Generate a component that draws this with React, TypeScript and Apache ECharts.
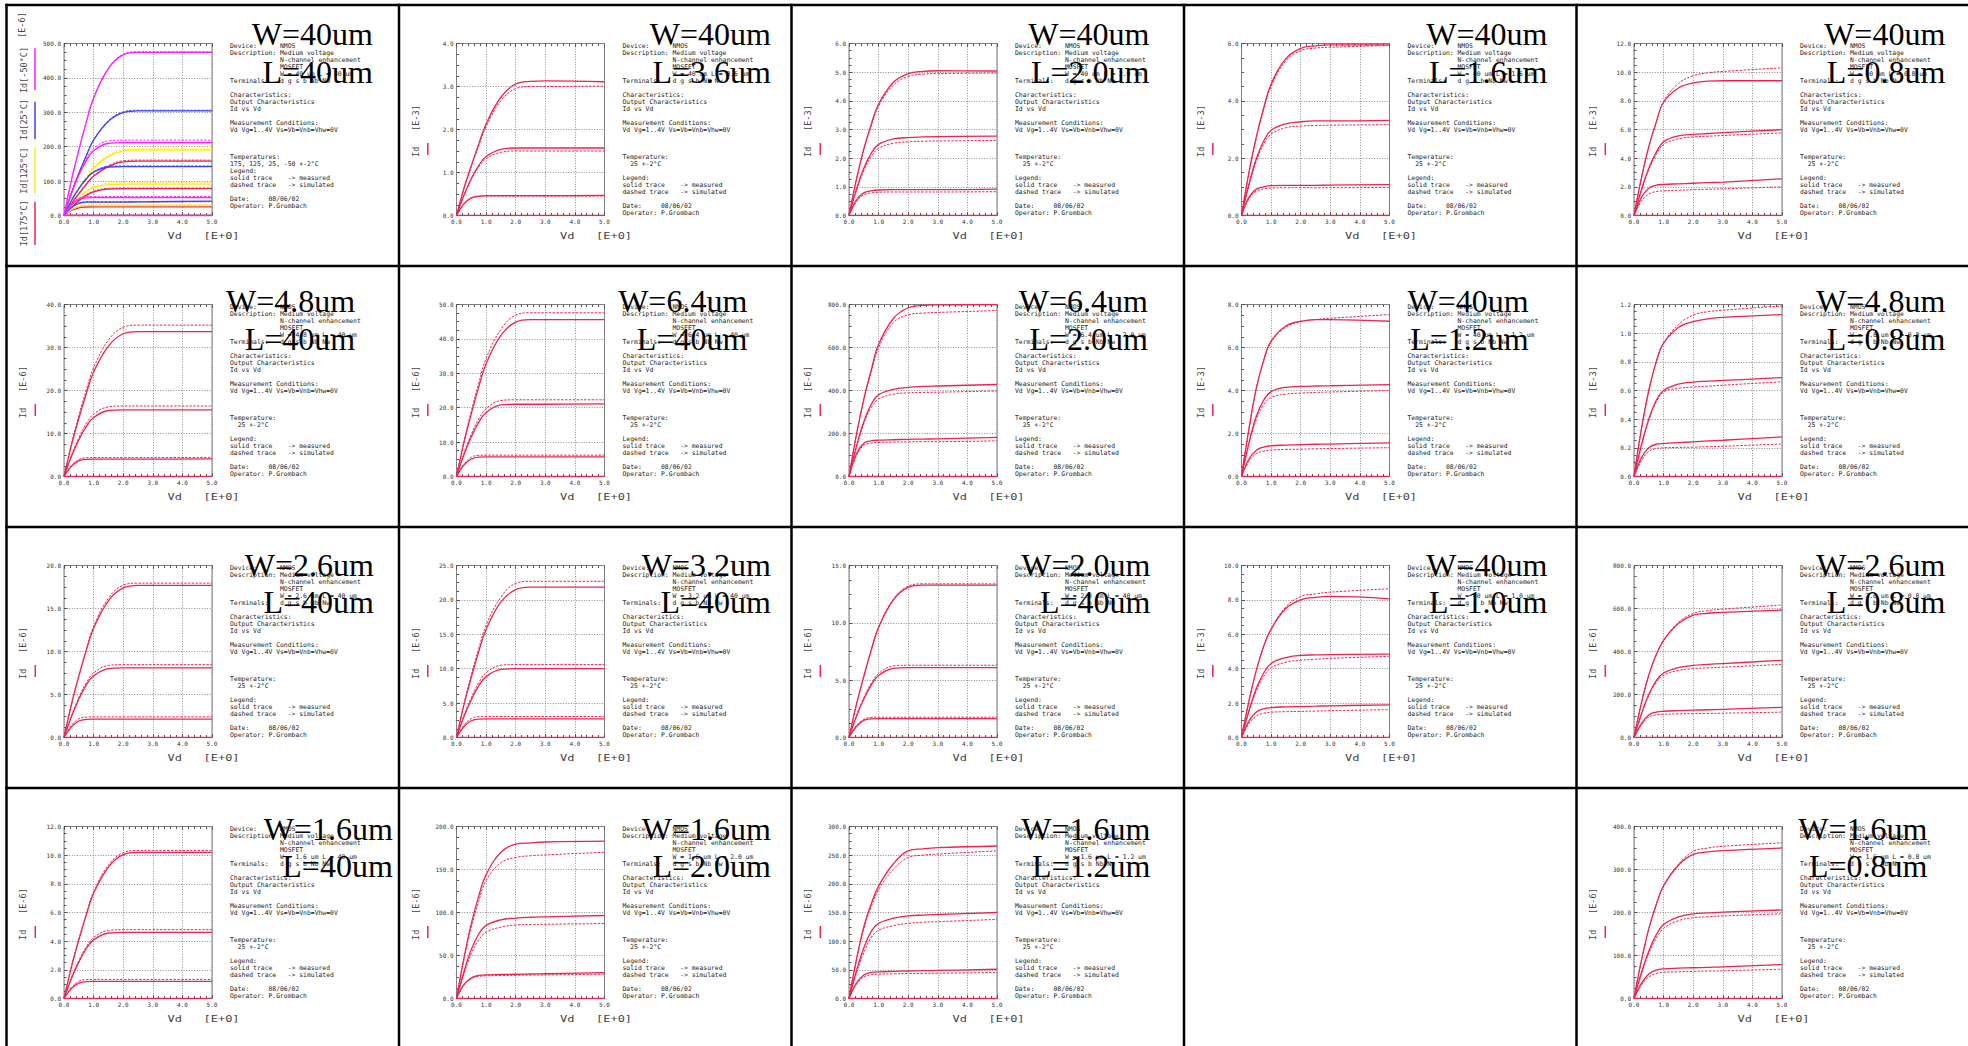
import React, { useEffect, useRef } from 'react';
import * as echarts from 'echarts';

// Drain voltage sample points (V) shared by every curve
const VD = [0, 0.25, 0.5, 0.75, 1, 1.5, 2, 2.5, 3, 5];
// Vg = 1 V stays below threshold: no drain current
const VG1_OFF = [0, 0, 0, 0, 0, 0, 0, 0, 0, 0];

// Each block: rows are Vg = 2, 3, 4 V; values in the panel's current unit

// W=40um L=40um, temperature sweep (uA)
const T_M50_MEAS = [
  [0, 30, 47, 51.5, 52, 52, 52, 52, 52, 52],
  [0, 64, 117, 159, 188, 210, 212, 212, 212, 212],
  [0, 102, 190, 270, 341, 427, 467, 474, 474, 474],
];
const T_M50_SIM = [
  [0, 32, 49.5, 54.5, 55, 55, 55, 55, 55, 55],
  [0, 66, 120, 164, 194, 217, 219, 219, 219, 219],
  [0, 102, 190, 271, 343, 428, 469, 476, 476, 476],
];
const T_25_MEAS = [
  [0, 23, 35, 38.6, 39, 39, 39, 39.5, 40, 42],
  [0, 43, 78, 106, 126, 141, 142, 142, 142, 142],
  [0, 65, 122, 173, 219, 274, 299, 304, 304, 304],
];
const T_25_SIM = [
  [0, 23, 36, 39.6, 40, 40, 40, 40, 40, 40],
  [0, 43, 79, 108, 127, 143, 144, 144, 144, 144],
  [0, 66, 122, 174, 220, 275, 301, 306, 306, 306],
];
const T_125_MEAS = [
  [0, 17, 26, 28.7, 29, 29, 29, 29, 29, 29],
  [0, 27, 50, 68, 81, 90, 91, 91, 91, 91],
  [0, 41, 76, 108, 137, 171, 187, 190, 190, 190],
];
const T_125_SIM = [
  [0, 18, 28, 30.7, 31, 31, 31, 31, 31, 31],
  [0, 28.5, 52, 71, 84, 94, 95, 95, 95, 95],
  [0, 42, 78, 111, 140, 175, 191, 194, 194, 194],
];
const T_175_MEAS = [
  [0, 14.5, 22.5, 24.7, 25, 25, 25, 25, 25, 25],
  [0, 23, 43, 58.5, 69, 77, 78, 78, 78, 78],
  [0, 34, 63, 90, 114, 142, 156, 158, 158, 158],
];
const T_175_SIM = [
  [0, 16, 25, 27.7, 28, 28, 28, 28, 28, 28],
  [0, 24, 44, 60, 71, 79, 80, 80, 80, 80],
  [0, 35, 64, 92, 116, 145, 159, 161, 161, 161],
];

// W=40um L=3.6um (mA)
const W40_L36_MEAS = [
  [0, 0.27, 0.41, 0.45, 0.46, 0.46, 0.46, 0.46, 0.46, 0.47],
  [0, 0.47, 0.86, 1.16, 1.37, 1.54, 1.57, 1.57, 1.57, 1.57],
  [0, 0.63, 1.16, 1.66, 2.13, 2.75, 3.06, 3.12, 3.13, 3.11],
];
const W40_L36_SIM = [
  [0, 0.27, 0.4, 0.44, 0.45, 0.45, 0.45, 0.45, 0.45, 0.45],
  [0, 0.46, 0.84, 1.13, 1.32, 1.47, 1.5, 1.5, 1.5, 1.5],
  [0, 0.62, 1.14, 1.62, 2.07, 2.67, 2.95, 3.0, 3.0, 3.01],
];
// W=40um L=2.0um (mA)
const W40_L20_MEAS = [
  [0, 0.54, 0.79, 0.86, 0.89, 0.9, 0.9, 0.9, 0.9, 0.92],
  [0, 0.91, 1.65, 2.17, 2.48, 2.67, 2.72, 2.74, 2.75, 2.77],
  [0, 1.26, 2.32, 3.18, 3.89, 4.65, 4.95, 5.03, 5.05, 5.04],
];
const W40_L20_SIM = [
  [0, 0.49, 0.72, 0.79, 0.81, 0.82, 0.82, 0.82, 0.82, 0.83],
  [0, 0.86, 1.56, 2.05, 2.34, 2.52, 2.57, 2.59, 2.6, 2.62],
  [0, 1.24, 2.28, 3.12, 3.81, 4.55, 4.85, 4.93, 4.95, 4.97],
];
// W=40um L=1.6um (mA)
const W40_L16_MEAS = [
  [0, 0.63, 0.92, 1.0, 1.04, 1.05, 1.05, 1.05, 1.06, 1.08],
  [0, 1.09, 1.98, 2.6, 2.97, 3.2, 3.27, 3.3, 3.3, 3.32],
  [0, 1.5, 2.74, 3.75, 4.58, 5.47, 5.83, 5.92, 5.95, 5.95],
];
const W40_L16_SIM = [
  [0, 0.58, 0.85, 0.93, 0.96, 0.97, 0.97, 0.97, 0.97, 0.98],
  [0, 1.04, 1.89, 2.49, 2.84, 3.06, 3.12, 3.14, 3.15, 3.17],
  [0, 1.47, 2.7, 3.7, 4.5, 5.4, 5.75, 5.84, 5.87, 5.93],
];
// W=40um L=0.8um (mA)
const W40_L08_MEAS = [
  [0, 1.25, 1.9, 2.12, 2.17, 2.21, 2.25, 2.29, 2.33, 2.56],
  [0, 1.8, 3.3, 4.4, 5.15, 5.55, 5.66, 5.72, 5.78, 5.99],
  [0, 2.6, 4.8, 6.5, 7.9, 8.9, 9.25, 9.38, 9.4, 9.4],
];
const W40_L08_SIM = [
  [0, 1.0, 1.5, 1.67, 1.72, 1.76, 1.8, 1.83, 1.86, 2.0],
  [0, 1.75, 3.2, 4.25, 4.95, 5.35, 5.48, 5.53, 5.58, 5.76],
  [0, 2.6, 4.8, 6.5, 7.95, 9.2, 9.75, 9.95, 10.05, 10.3],
];
// W=4.8um L=40um (uA)
const W48_L40_MEAS = [
  [0, 2.35, 3.65, 4.0, 4.05, 4.05, 4.05, 4.05, 4.05, 4.1],
  [0, 4.65, 8.5, 11.6, 13.7, 15.35, 15.5, 15.5, 15.5, 15.5],
  [0, 7.2, 13.5, 19.2, 24.3, 30.3, 33.2, 33.7, 33.7, 33.7],
];
const W48_L40_SIM = [
  [0, 2.55, 3.95, 4.35, 4.4, 4.4, 4.4, 4.4, 4.4, 4.45],
  [0, 4.9, 9.0, 12.3, 14.5, 16.2, 16.4, 16.4, 16.4, 16.4],
  [0, 7.6, 14.1, 20.1, 25.3, 31.7, 34.7, 35.2, 35.2, 35.2],
];
// W=6.4um L=40um (uA)
const W64_L40_MEAS = [
  [0, 3.3, 5.1, 5.65, 5.7, 5.7, 5.7, 5.7, 5.7, 5.7],
  [0, 6.3, 11.55, 15.75, 18.6, 20.8, 21.0, 21.0, 21.0, 21.1],
  [0, 9.8, 18.2, 26.0, 32.8, 41.0, 44.9, 45.6, 45.6, 45.6],
];
const W64_L40_SIM = [
  [0, 3.6, 5.6, 6.15, 6.2, 6.2, 6.2, 6.2, 6.2, 6.2],
  [0, 6.7, 12.3, 16.7, 19.7, 22.1, 22.3, 22.3, 22.3, 22.3],
  [0, 10.2, 19.0, 27.1, 34.3, 42.8, 46.9, 47.6, 47.6, 47.6],
];
// W=6.4um L=2.0um (uA)
const W64_L20_MEAS = [
  [0, 105, 155, 166, 169, 171, 173, 174, 175, 182],
  [0, 140, 255, 335, 380, 405, 415, 419, 421, 428],
  [0, 195, 360, 495, 615, 735, 785, 796, 798, 800],
];
const W64_L20_SIM = [
  [0, 98, 145, 155, 158, 160, 161, 162, 162, 166],
  [0, 135, 245, 320, 360, 383, 389, 391, 392, 398],
  [0, 190, 355, 485, 600, 715, 752, 760, 763, 772],
];
// W=40um L=1.2um (mA)
const W40_L12_MEAS = [
  [0, 0.8, 1.22, 1.37, 1.43, 1.46, 1.48, 1.5, 1.51, 1.56],
  [0, 1.55, 2.8, 3.55, 3.95, 4.15, 4.19, 4.21, 4.22, 4.27],
  [0, 2.2, 4.1, 5.4, 6.3, 7.0, 7.22, 7.3, 7.3, 7.22],
];
const W40_L12_SIM = [
  [0, 0.7, 1.06, 1.18, 1.23, 1.26, 1.27, 1.29, 1.3, 1.34],
  [0, 1.5, 2.65, 3.35, 3.68, 3.83, 3.88, 3.91, 3.93, 4.0],
  [0, 2.2, 4.1, 5.4, 6.25, 6.95, 7.2, 7.3, 7.36, 7.53],
];
// W=4.8um L=0.8um (mA)
const W48_L08_MEAS = [
  [0, 0.13, 0.2, 0.225, 0.23, 0.236, 0.242, 0.248, 0.253, 0.276],
  [0, 0.22, 0.4, 0.53, 0.6, 0.645, 0.659, 0.665, 0.67, 0.69],
  [0, 0.33, 0.6, 0.8, 0.93, 1.04, 1.08, 1.1, 1.11, 1.13],
];
const W48_L08_SIM = [
  [0, 0.11, 0.175, 0.195, 0.2, 0.203, 0.205, 0.208, 0.211, 0.227],
  [0, 0.21, 0.39, 0.52, 0.59, 0.615, 0.624, 0.63, 0.637, 0.661],
  [0, 0.33, 0.6, 0.8, 0.93, 1.06, 1.126, 1.15, 1.16, 1.19],
];
// W=2.6um L=40um (uA)
const W26_L40_MEAS = [
  [0, 1.24, 1.92, 2.1, 2.13, 2.13, 2.13, 2.13, 2.13, 2.13],
  [0, 2.4, 4.45, 6.1, 7.15, 8.0, 8.1, 8.1, 8.1, 8.1],
  [0, 3.8, 7.1, 10.1, 12.7, 15.9, 17.4, 17.7, 17.7, 17.7],
];
const W26_L40_SIM = [
  [0, 1.39, 2.16, 2.38, 2.4, 2.4, 2.4, 2.4, 2.4, 2.4],
  [0, 2.5, 4.65, 6.35, 7.5, 8.38, 8.47, 8.47, 8.47, 8.47],
  [0, 3.9, 7.2, 10.2, 12.9, 16.2, 17.7, 17.95, 17.95, 17.95],
];
// W=3.2um L=40um (uA)
const W32_L40_MEAS = [
  [0, 1.57, 2.43, 2.67, 2.7, 2.7, 2.7, 2.7, 2.7, 2.7],
  [0, 3.0, 5.5, 7.5, 8.85, 9.9, 10.0, 10.0, 10.0, 10.0],
  [0, 4.7, 8.75, 12.45, 15.7, 19.7, 21.5, 21.86, 21.86, 21.86],
];
const W32_L40_SIM = [
  [0, 1.77, 2.75, 3.02, 3.05, 3.05, 3.05, 3.05, 3.05, 3.05],
  [0, 3.2, 5.8, 7.95, 9.4, 10.5, 10.6, 10.6, 10.6, 10.6],
  [0, 4.9, 9.1, 12.9, 16.3, 20.4, 22.4, 22.7, 22.7, 22.7],
];
// W=2.0um L=40um (uA)
const W20_L40_MEAS = [
  [0, 0.96, 1.49, 1.63, 1.65, 1.65, 1.65, 1.65, 1.65, 1.65],
  [0, 1.83, 3.35, 4.57, 5.4, 6.03, 6.09, 6.09, 6.09, 6.09],
  [0, 2.86, 5.3, 7.6, 9.6, 12.0, 13.1, 13.29, 13.29, 13.29],
];
const W20_L40_SIM = [
  [0, 1.03, 1.59, 1.75, 1.77, 1.77, 1.77, 1.77, 1.77, 1.77],
  [0, 1.9, 3.47, 4.72, 5.58, 6.24, 6.3, 6.3, 6.3, 6.3],
  [0, 2.9, 5.4, 7.65, 9.65, 12.06, 13.2, 13.4, 13.4, 13.4],
];
// W=40um L=1.0um (mA)
const W40_L10_MEAS = [
  [0, 0.95, 1.48, 1.67, 1.74, 1.78, 1.8, 1.82, 1.84, 1.9],
  [0, 1.55, 2.85, 3.75, 4.3, 4.65, 4.78, 4.8, 4.82, 4.85],
  [0, 2.1, 3.9, 5.3, 6.3, 7.5, 8.0, 8.15, 8.2, 8.06],
];
const W40_L10_SIM = [
  [0, 0.8, 1.25, 1.41, 1.47, 1.5, 1.52, 1.54, 1.56, 1.62],
  [0, 1.5, 2.7, 3.55, 4.05, 4.38, 4.49, 4.55, 4.6, 4.72],
  [0, 2.1, 3.9, 5.3, 6.3, 7.6, 8.2, 8.35, 8.45, 8.65],
];
// W=2.6um L=0.8um (uA)
const W26_L08_MEAS = [
  [0, 65, 105, 118, 122, 125, 127, 129, 131, 140],
  [0, 110, 200, 265, 300, 325, 335, 340, 344, 359],
  [0, 160, 290, 385, 452, 530, 569, 578, 582, 593],
];
const W26_L08_SIM = [
  [0, 58, 95, 105, 108, 110, 111, 112, 113, 118],
  [0, 105, 195, 255, 290, 312, 320, 324, 327, 340],
  [0, 160, 290, 385, 452, 535, 577, 590, 597, 616],
];
// W=1.6um L=40um (uA)
const W16_L40_MEAS = [
  [0, 0.69, 1.07, 1.18, 1.19, 1.19, 1.19, 1.19, 1.19, 1.19],
  [0, 1.39, 2.54, 3.47, 4.09, 4.57, 4.62, 4.62, 4.62, 4.62],
  [0, 2.19, 4.08, 5.8, 7.34, 9.17, 10.04, 10.19, 10.19, 10.19],
];
const W16_L40_SIM = [
  [0, 0.77, 1.2, 1.32, 1.33, 1.33, 1.33, 1.33, 1.33, 1.33],
  [0, 1.44, 2.64, 3.6, 4.25, 4.75, 4.8, 4.8, 4.8, 4.8],
  [0, 2.22, 4.13, 5.89, 7.44, 9.3, 10.17, 10.33, 10.33, 10.33],
];
// W=1.6um L=2.0um (uA)
const W16_L20_MEAS = [
  [0, 16, 24, 26.8, 27.5, 27.9, 28.2, 28.5, 28.8, 30.2],
  [0, 31, 57, 75, 85, 91.5, 93.5, 94.5, 95, 96.5],
  [0, 47, 87, 119, 144, 170, 179.5, 181, 182, 183],
];
const W16_L20_SIM = [
  [0, 15.5, 23.2, 25.7, 26.4, 26.7, 27, 27.2, 27.4, 28.3],
  [0, 28, 52, 68, 77, 83, 85.5, 86, 86.3, 87.2],
  [0, 45, 83, 113, 137, 158, 164, 166, 167, 170],
];
// W=1.6um L=1.2um (uA)
const W16_L12_MEAS = [
  [0, 27, 41, 45.5, 46.5, 47.3, 48, 48.5, 49, 51],
  [0, 48, 88, 117, 131, 140, 144, 145.5, 146.5, 150],
  [0, 68, 125, 165, 196, 235, 257.5, 261, 263, 266],
];
const W16_L12_SIM = [
  [0, 24.5, 37.5, 41.5, 42.4, 43, 43.5, 43.8, 44.1, 45.3],
  [0, 44, 80, 106, 119, 127, 131, 133, 134, 138],
  [0, 66, 121, 160, 190, 225, 246, 250, 252, 257.5],
];
// W=1.6um L=0.8um (uA)
const W16_L08_MEAS = [
  [0, 35, 57, 66, 69, 70.5, 71.5, 72.5, 73.5, 79],
  [0, 60, 110, 148, 172, 190, 197, 199, 201, 206],
  [0, 88, 162, 218, 262, 310, 335, 341, 344, 350],
];
const W16_L08_SIM = [
  [0, 31, 50, 58, 61, 62, 63, 64, 64.5, 68],
  [0, 57, 105, 140, 163, 181, 188, 190, 192, 197],
  [0, 88, 162, 218, 262, 312, 342, 350, 354, 362],
];

// Colours
const RED = '#ee2450';
const MAGENTA = '#ff1eff';
const BLUE = '#3b46f0';
const YELLOW = '#ffe81a';

type Trace = { color: string; meas: number[][]; sim: number[][] };
type Panel = {
  row: number; col: number; w: string; l: string; exp: string;
  yMax: number; yStep: number; traces: Trace[]; temps?: boolean;
};

const single = (meas: number[][], sim: number[][]): Trace[] => [{ color: RED, meas, sim }];

const PANELS: Panel[] = [
  {
    row: 0, col: 0, w: '40', l: '40', exp: '-6', yMax: 500, yStep: 100, temps: true,
    traces: [
      { color: RED, meas: T_175_MEAS, sim: T_175_SIM },
      { color: YELLOW, meas: T_125_MEAS, sim: T_125_SIM },
      { color: BLUE, meas: T_25_MEAS, sim: T_25_SIM },
      { color: MAGENTA, meas: T_M50_MEAS, sim: T_M50_SIM },
    ],
  },
  { row: 0, col: 1, w: '40', l: '3.6', exp: '-3', yMax: 4, yStep: 1, traces: single(W40_L36_MEAS, W40_L36_SIM) },
  { row: 0, col: 2, w: '40', l: '2.0', exp: '-3', yMax: 6, yStep: 1, traces: single(W40_L20_MEAS, W40_L20_SIM) },
  { row: 0, col: 3, w: '40', l: '1.6', exp: '-3', yMax: 6, yStep: 2, traces: single(W40_L16_MEAS, W40_L16_SIM) },
  { row: 0, col: 4, w: '40', l: '0.8', exp: '-3', yMax: 12, yStep: 2, traces: single(W40_L08_MEAS, W40_L08_SIM) },
  { row: 1, col: 0, w: '4.8', l: '40', exp: '-6', yMax: 40, yStep: 10, traces: single(W48_L40_MEAS, W48_L40_SIM) },
  { row: 1, col: 1, w: '6.4', l: '40', exp: '-6', yMax: 50, yStep: 10, traces: single(W64_L40_MEAS, W64_L40_SIM) },
  { row: 1, col: 2, w: '6.4', l: '2.0', exp: '-6', yMax: 800, yStep: 200, traces: single(W64_L20_MEAS, W64_L20_SIM) },
  { row: 1, col: 3, w: '40', l: '1.2', exp: '-3', yMax: 8, yStep: 2, traces: single(W40_L12_MEAS, W40_L12_SIM) },
  { row: 1, col: 4, w: '4.8', l: '0.8', exp: '-3', yMax: 1.2, yStep: 0.2, traces: single(W48_L08_MEAS, W48_L08_SIM) },
  { row: 2, col: 0, w: '2.6', l: '40', exp: '-6', yMax: 20, yStep: 5, traces: single(W26_L40_MEAS, W26_L40_SIM) },
  { row: 2, col: 1, w: '3.2', l: '40', exp: '-6', yMax: 25, yStep: 5, traces: single(W32_L40_MEAS, W32_L40_SIM) },
  { row: 2, col: 2, w: '2.0', l: '40', exp: '-6', yMax: 15, yStep: 5, traces: single(W20_L40_MEAS, W20_L40_SIM) },
  { row: 2, col: 3, w: '40', l: '1.0', exp: '-3', yMax: 10, yStep: 2, traces: single(W40_L10_MEAS, W40_L10_SIM) },
  { row: 2, col: 4, w: '2.6', l: '0.8', exp: '-6', yMax: 800, yStep: 200, traces: single(W26_L08_MEAS, W26_L08_SIM) },
  { row: 3, col: 0, w: '1.6', l: '40', exp: '-6', yMax: 12, yStep: 2, traces: single(W16_L40_MEAS, W16_L40_SIM) },
  { row: 3, col: 1, w: '1.6', l: '2.0', exp: '-6', yMax: 200, yStep: 50, traces: single(W16_L20_MEAS, W16_L20_SIM) },
  { row: 3, col: 2, w: '1.6', l: '1.2', exp: '-6', yMax: 300, yStep: 50, traces: single(W16_L12_MEAS, W16_L12_SIM) },
  { row: 3, col: 4, w: '1.6', l: '0.8', exp: '-6', yMax: 400, yStep: 100, traces: single(W16_L08_MEAS, W16_L08_SIM) },
];

// Page layout (px)
const PAGE_W = 1968;
const PAGE_H = 1046;
const CELL_X0 = 6.5;
const CELL_Y0 = 5;
const CELL_W = 392.5;
const CELL_H = 261;
const PLOT = { left: 57.5, top: 38.5, width: 148, height: 172 };
// right edge of the big W/L caption inside each cell, same order as PANELS
const CAPTION_RIGHT = [
  366.5, 372, 358, 363.5, 368.8,
  348.7, 348.3, 356.4, 344.7, 368.8,
  367.5, 372, 359, 363.5, 368.8,
  386.3, 372, 359, 351,
];
// baseline of the "W=" caption in each row
const CAPTION_BASE = [40, 46, 48.5, 51.5];

const MONO = 'DejaVu Sans Mono';
const NB = (s: string) => s.replace(/ /g, '\u00a0');

function infoText(p: Panel): string {
  const temp = p.temps
    ? ['Temperatures:', '175, 125, 25, -50 +-2°C']
    : ['Temperature:', '  25 +-2°C', ''];
  return [
    'Device:      NMOS',
    'Description: Medium voltage',
    '             N-channel enhancement',
    '             MOSFET',
    `             W = ${p.w} um L = ${p.l} um`,
    'Terminals:   d g s b Nb Nw',
    '',
    'Characteristics:',
    'Output Characteristics',
    'Id vs Vd',
    '',
    'Measurement Conditions:',
    'Vd Vg=1..4V Vs=Vb=Vnb=Vhw=0V',
    '',
    '',
    '',
    ...temp,
    'Legend:',
    'solid trace    -> measured',
    'dashed trace   -> simulated',
    '',
    'Date:     08/06/02',
    'Operator: P.Grombach',
  ].map(NB).join('\n');
}

function buildOption() {
  const grid: any[] = [];
  const xAxis: any[] = [];
  const yAxis: any[] = [];
  const series: any[] = [];
  const elements: any[] = [];

  const tickStyle = { color: '#555', width: 1 };
  const splitStyle = { color: '#8c8c8c', width: 1, type: [1, 1.6] };

  PANELS.forEach((p, i) => {
    const x0 = CELL_X0 + CELL_W * p.col;
    const y0 = CELL_Y0 + CELL_H * p.row;

    grid.push({
      left: x0 + PLOT.left, top: y0 + PLOT.top, width: PLOT.width, height: PLOT.height,
      show: true, borderColor: '#7a7a7a', borderWidth: 1, backgroundColor: 'transparent',
      containLabel: false, outerBoundsMode: 'none',
    });

    xAxis.push({
      type: 'value', gridIndex: i, position: 'bottom', min: 0, max: 5, interval: 1,
      axisLine: { show: false },
      axisTick: { show: true, inside: true, length: 3.5, lineStyle: tickStyle },
      minorTick: { show: true, splitNumber: 5, length: 2.5, lineStyle: tickStyle },
      splitLine: { show: true, lineStyle: splitStyle },
      axisLabel: {
        show: true, margin: 3, fontSize: 6, fontFamily: MONO, color: '#333',
        showMinLabel: true, showMaxLabel: true, formatter: (v: number) => v.toFixed(1),
      },
    });
    xAxis.push({
      type: 'value', gridIndex: i, position: 'top', min: 0, max: 5, interval: 1,
      axisLine: { show: false },
      axisTick: { show: true, inside: true, length: 3.5, lineStyle: tickStyle },
      minorTick: { show: true, splitNumber: 5, length: 2.5, lineStyle: tickStyle },
      splitLine: { show: false },
      axisLabel: { show: false },
    });
    yAxis.push({
      type: 'value', gridIndex: i, min: 0, max: p.yMax, interval: p.yStep,
      axisLine: { show: false },
      axisTick: { show: true, inside: true, length: 3.5, lineStyle: tickStyle },
      minorTick: { show: true, splitNumber: 4, length: 2.5, lineStyle: tickStyle },
      splitLine: { show: true, lineStyle: splitStyle },
      axisLabel: {
        show: true, margin: 3, fontSize: 6, fontFamily: MONO, color: '#333',
        showMinLabel: true, showMaxLabel: true, formatter: (v: number) => v.toFixed(1),
      },
    });

    p.traces.forEach((t) => {
      const meas = [VG1_OFF, ...t.meas];
      const sim = [VG1_OFF, ...t.sim];
      const toPts = (c: number[]) => VD.map((v, k) => [v, c[k]]);
      sim.forEach((c) => {
        series.push({
          type: 'line', xAxisIndex: 2 * i, yAxisIndex: i, data: toPts(c),
          showSymbol: false, smooth: 0.4, silent: true, clip: true,
          lineStyle: { color: t.color, width: 1, type: [2.4, 1.4] },
        });
      });
      meas.forEach((c) => {
        series.push({
          type: 'line', xAxisIndex: 2 * i, yAxisIndex: i, data: toPts(c),
          showSymbol: false, smooth: 0.4, silent: true, clip: true,
          lineStyle: { color: t.color, width: 1.3 },
        });
      });
    });

    // descriptive block to the right of the plot
    elements.push({
      type: 'text', x: x0 + 223.5, y: y0 + 38, silent: true,
      style: {
        text: infoText(p), fontFamily: MONO, fontSize: 6.4, lineHeight: 6.93,
        fill: '#222', textAlign: 'left', verticalAlign: 'top',
      },
    });

    // x axis title
    elements.push({
      type: 'text', x: x0 + 197, y: y0 + 231, scaleX: 1.5, silent: true,
      style: {
        text: NB('Vd   [E+0]'), fontFamily: MONO, fontSize: 8, fill: '#444',
        textAlign: 'center', verticalAlign: 'middle',
      },
    });

    // y axis title(s) with trace-colour markers
    if (p.temps) {
      const labels = [
        { text: 'Id[-50°C]', cy: 65, y1: 43.3, y2: 85, color: MAGENTA },
        { text: 'Id[25°C]', cy: 114.5, y1: 96.7, y2: 134, color: BLUE },
        { text: 'Id[125°C]', cy: 165.7, y1: 143.3, y2: 188, color: YELLOW },
        { text: 'Id[175°C]', cy: 218.3, y1: 196.7, y2: 240, color: RED },
      ];
      elements.push({
        type: 'text', x: x0 + 15.2, y: y0 + 20, rotation: Math.PI / 2, silent: true,
        style: {
          text: `[E${p.exp}]`, fontFamily: MONO, fontSize: 8.5, fill: '#444',
          textAlign: 'center', verticalAlign: 'middle',
        },
      });
      labels.forEach((lb) => {
        elements.push({
          type: 'text', x: x0 + 17.5, y: y0 + lb.cy, rotation: Math.PI / 2, silent: true,
          style: {
            text: lb.text, fontFamily: MONO, fontSize: 8.5, fill: '#444',
            textAlign: 'center', verticalAlign: 'middle',
          },
        });
        elements.push({
          type: 'line', silent: true,
          shape: { x1: x0 + 28.5, y1: y0 + lb.y1, x2: x0 + 28.5, y2: y0 + lb.y2 },
          style: { stroke: lb.color, lineWidth: 1.5 },
        });
      });
    } else {
      elements.push({
        type: 'text', x: x0 + 16.8, y: y0 + 126, rotation: Math.PI / 2, silent: true,
        style: {
          text: NB(`Id   [E${p.exp}]`), fontFamily: MONO, fontSize: 8.6, fill: '#444',
          textAlign: 'center', verticalAlign: 'middle',
        },
      });
      elements.push({
        type: 'line', silent: true,
        shape: { x1: x0 + 28.8, y1: y0 + 138, x2: x0 + 28.8, y2: y0 + 150 },
        style: { stroke: RED, lineWidth: 1.5 },
      });
    }

    // big W / L caption
    const right = x0 + CAPTION_RIGHT[i];
    const base = y0 + CAPTION_BASE[p.row];
    const capStyle = {
      fontFamily: 'Liberation Serif', fontSize: 32, fill: '#000',
      textAlign: 'right', verticalAlign: 'middle',
    };
    elements.push({
      type: 'text', x: right, y: base - 10.8, silent: true, z: 10,
      style: { ...capStyle, text: `W=${p.w}um` },
    });
    elements.push({
      type: 'text', x: right, y: base + 37.5 - 10.8, silent: true, z: 10,
      style: { ...capStyle, text: `L=${p.l}um` },
    });
  });

  // table rules between the cells
  for (let c = 0; c <= 4; c++) {
    const x = CELL_X0 + CELL_W * c;
    elements.push({
      type: 'line', silent: true, z: 20,
      shape: { x1: x, y1: CELL_Y0 - 1.25, x2: x, y2: PAGE_H },
      style: { stroke: '#000', lineWidth: 2.5 },
    });
  }
  for (let r = 0; r <= 3; r++) {
    const y = CELL_Y0 + CELL_H * r;
    elements.push({
      type: 'line', silent: true, z: 20,
      shape: { x1: CELL_X0 - 1.25, y1: y, x2: PAGE_W, y2: y },
      style: { stroke: '#000', lineWidth: 2.5 },
    });
  }

  return {
    animation: false,
    backgroundColor: '#ffffff',
    grid,
    xAxis,
    yAxis,
    series,
    graphic: { elements },
  };
}

export default function App() {
  const ref = useRef<HTMLDivElement>(null);

  useEffect(() => {
    if (!ref.current) return;
    const chart = echarts.init(ref.current, undefined, { renderer: 'svg' });
    chart.setOption(buildOption() as any);
    return () => chart.dispose();
  }, []);

  return (
    <div
      ref={ref}
      style={{ position: 'fixed', left: 0, top: 0, width: PAGE_W, height: PAGE_H, background: '#fff' }}
    />
  );
}
